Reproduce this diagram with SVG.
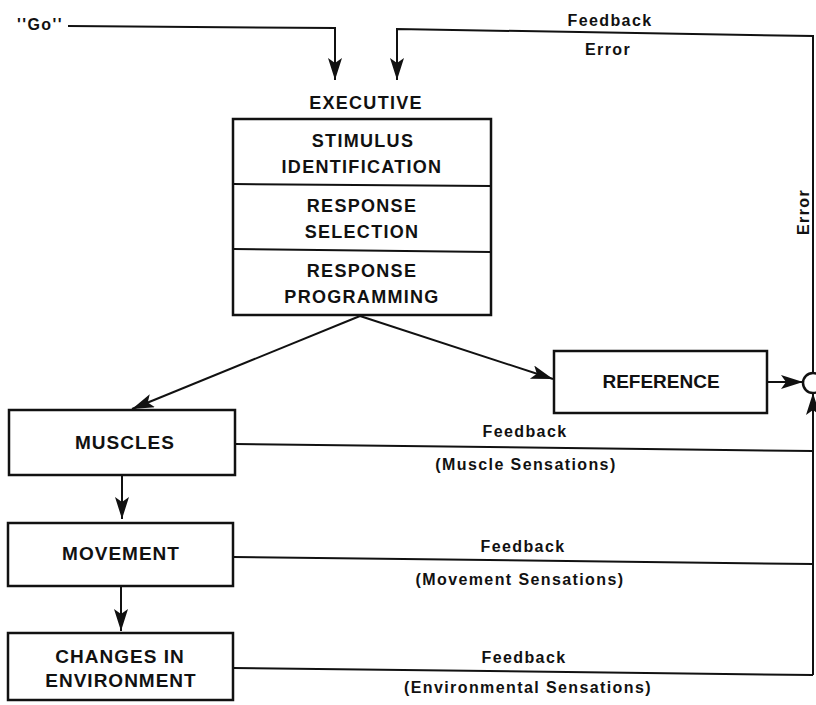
<svg xmlns="http://www.w3.org/2000/svg" width="816" height="705" viewBox="0 0 816 705">
<style>
text{font-family:"Liberation Sans",Arial,sans-serif;font-weight:bold;fill:#111;text-anchor:middle}
.box{fill:#fff;stroke:#111;stroke-width:2.5}
.ln{fill:none;stroke:#111;stroke-width:2}
.big{font-size:19px;letter-spacing:1px}
.ex{font-size:18px;letter-spacing:1.3px}
.lb{font-size:16px;letter-spacing:1.4px}
</style>
<defs>
<marker id="ah" markerUnits="userSpaceOnUse" markerWidth="24" markerHeight="16" refX="22" refY="7" orient="auto">
<path d="M0,0 L22,7 L0,14 L5,7 z" fill="#111"/>
</marker>
</defs>
<rect width="816" height="705" fill="#fff"/>
<g id="connectors">
<polyline class="ln" points="68,26 335,28 335,80" marker-end="url(#ah)"/>
<polyline class="ln" points="813,373 813,36 397,29 397,80" marker-end="url(#ah)"/>
<line class="ln" x1="360" y1="316" x2="132" y2="409" marker-end="url(#ah)"/>
<line class="ln" x1="360" y1="316" x2="553" y2="379" marker-end="url(#ah)"/>
<line class="ln" x1="767" y1="382" x2="803" y2="382" marker-end="url(#ah)"/>
<line class="ln" x1="235" y1="444" x2="813" y2="451"/>
<line class="ln" x1="233" y1="557" x2="813" y2="564"/>
<line class="ln" x1="233" y1="668" x2="813" y2="675"/>
<polyline class="ln" points="813,675 813,393" marker-end="url(#ah)"/>
<line class="ln" x1="122" y1="475" x2="122" y2="519" marker-end="url(#ah)"/>
<line class="ln" x1="121" y1="586" x2="121" y2="631" marker-end="url(#ah)"/>
<text class="lb" x="40" y="30">''Go''</text>
<text class="lb" x="610" y="26">Feedback</text>
<text class="lb" x="608" y="55">Error</text>
<text class="lb" transform="translate(809,212) rotate(-90)">Error</text>
<text class="lb" x="525" y="437">Feedback</text>
<text class="lb" x="526" y="470">(Muscle Sensations)</text>
<text class="lb" x="523" y="552">Feedback</text>
<text class="lb" x="520" y="585">(Movement Sensations)</text>
<text class="lb" x="524" y="663">Feedback</text>
<text class="lb" x="528" y="693">(Environmental Sensations)</text>
</g>
<g id="comparator">
<circle cx="813" cy="383" r="10" fill="#fff" stroke="#111" stroke-width="2.5"/>
</g>
<g id="executive">
<text class="ex" x="366" y="109">EXECUTIVE</text>
<rect class="box" x="233" y="119" width="258" height="196"/>
<line class="ln" x1="233" y1="184" x2="491" y2="186" stroke-width="2.5"/>
<line class="ln" x1="233" y1="249" x2="491" y2="252" stroke-width="2.5"/>
<text class="ex" x="363" y="147">STIMULUS</text>
<text class="ex" x="362" y="173">IDENTIFICATION</text>
<text class="ex" x="362" y="212">RESPONSE</text>
<text class="ex" x="362" y="238">SELECTION</text>
<text class="ex" x="362" y="277">RESPONSE</text>
<text class="ex" x="362" y="303">PROGRAMMING</text>
</g>
<g id="reference">
<rect class="box" x="554" y="351" width="213" height="62"/>
<text class="big" x="661" y="388" style="letter-spacing:0">REFERENCE</text>
</g>
<g id="muscles">
<rect class="box" x="9" y="410" width="226" height="65"/>
<text class="big" x="125" y="449">MUSCLES</text>
</g>
<g id="movement">
<rect class="box" x="8" y="523" width="225" height="63"/>
<text class="big" x="121" y="560">MOVEMENT</text>
</g>
<g id="changes">
<rect class="box" x="8" y="633" width="225" height="67"/>
<text class="big" x="120" y="663">CHANGES IN</text>
<text class="big" x="121" y="687">ENVIRONMENT</text>
</g>
</svg>
